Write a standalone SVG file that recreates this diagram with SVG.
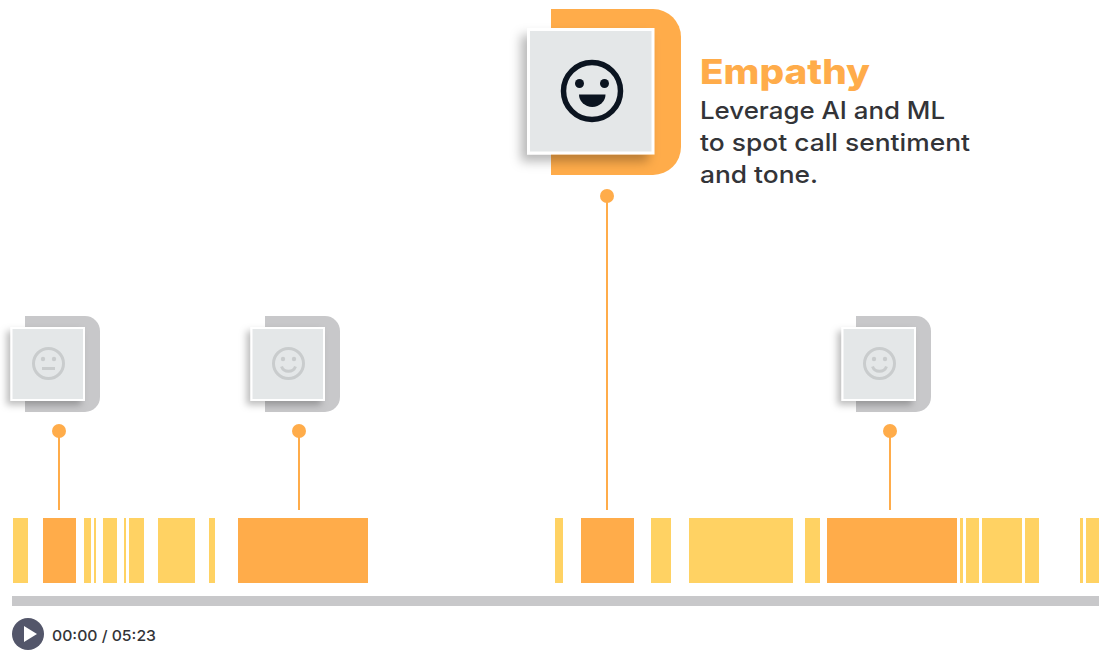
<svg xmlns="http://www.w3.org/2000/svg" width="1110" height="658" viewBox="0 0 1110 658">
<defs>
<style>
text{font-family:"Inter","Liberation Sans",Arial,sans-serif}
.a{fill:#ffd263}.o{fill:#ffac4a}.g{fill:#c8c8ca}
.sq{fill:#e4e7e8;stroke:#fff;stroke-width:2}
.sq.big{stroke-width:3}
.f{fill:none;stroke:#c9cccd;stroke-width:3}.fd{fill:#c9cccd}
.wire{stroke:#ffac4a;stroke-width:2;fill:none}
.body{font-size:24px;font-weight:500;fill:#333438}
</style>
<filter id="s" x="-30%" y="-30%" width="160%" height="160%"><feDropShadow dx="-4" dy="4" stdDeviation="3.500" flood-color="#000" flood-opacity=".26"/></filter>
<filter id="b" x="-30%" y="-30%" width="160%" height="160%"><feDropShadow dx="-6" dy="7" stdDeviation="5.500" flood-color="#000" flood-opacity=".28"/></filter>
</defs>
<rect width="1110" height="658" fill="#fff"/>
<g id="bars">
<rect class="a" x="13" y="518" width="15" height="65"/><rect class="o" x="43" y="518" width="33" height="65"/><rect class="a" x="84" y="518" width="7" height="65"/><rect class="a" x="94" y="518" width="2" height="65"/><rect class="a" x="103" y="518" width="14" height="65"/><rect class="a" x="124" y="518" width="2" height="65"/><rect class="a" x="129" y="518" width="15" height="65"/><rect class="a" x="158" y="518" width="37" height="65"/><rect class="a" x="209" y="518" width="6" height="65"/><rect class="o" x="238" y="518" width="130" height="65"/>
<rect class="a" x="555" y="518" width="8" height="65"/><rect class="o" x="581" y="518" width="53" height="65"/><rect class="a" x="651" y="518" width="20" height="65"/><rect class="a" x="689" y="518" width="104" height="65"/><rect class="a" x="805" y="518" width="15" height="65"/><rect class="o" x="827" y="518" width="130" height="65"/><rect class="a" x="960" y="518" width="3" height="65"/><rect class="a" x="966" y="518" width="13" height="65"/><rect class="a" x="982" y="518" width="40" height="65"/><rect class="a" x="1025" y="518" width="14" height="65"/><rect class="a" x="1080" y="518" width="3" height="65"/><rect class="a" x="1086" y="518" width="13" height="65"/>
</g>
<rect id="track" class="g" x="12" y="596" width="1087" height="10"/>
<g id="connectors">
<path class="wire" d="M59 431V510M299 431V510M607 196V510M890 431V510"/>
<circle class="o" cx="59" cy="431" r="7"/><circle class="o" cx="299" cy="431" r="7"/><circle class="o" cx="607" cy="196" r="7"/><circle class="o" cx="890" cy="431" r="7"/>
</g>
<g id="node-neutral">
<path class="g" d="M25 316H85A15 15 0 0 1 100 331V397A15 15 0 0 1 85 412H25Z"/>
<rect class="sq" x="11.500" y="328" width="72.500" height="72" filter="url(#s)"/>
<circle class="f" cx="48.500" cy="363.500" r="15"/><circle class="fd" cx="43" cy="359" r="2.200"/><circle class="fd" cx="54" cy="359" r="2.200"/><path class="f" d="M42 368.500H55"/>
</g>
<g id="node-smile-1">
<path class="g" d="M265 316H325A15 15 0 0 1 340 331V397A15 15 0 0 1 325 412H265Z"/>
<rect class="sq" x="251.500" y="328" width="72.500" height="72" filter="url(#s)"/>
<circle class="f" cx="288.500" cy="363.500" r="15"/><circle class="fd" cx="283" cy="359" r="2.200"/><circle class="fd" cx="294" cy="359" r="2.200"/><path class="f" d="M281.500 366.500A7.500 7.500 0 0 0 295.500 366.500"/>
</g>
<g id="node-smile-2">
<path class="g" d="M856 316H916A15 15 0 0 1 931 331V397A15 15 0 0 1 916 412H856Z"/>
<rect class="sq" x="842.500" y="328" width="72.500" height="72" filter="url(#s)"/>
<circle class="f" cx="879.500" cy="363.500" r="15"/><circle class="fd" cx="874" cy="359" r="2.200"/><circle class="fd" cx="885" cy="359" r="2.200"/><path class="f" d="M872.500 366.500A7.500 7.500 0 0 0 886.500 366.500"/>
</g>
<g id="node-empathy">
<path class="o" d="M551 9H653A28 28 0 0 1 681 37V147A28 28 0 0 1 653 175H551Z"/>
<rect class="sq big" x="528.500" y="29.500" width="124.500" height="123.500" filter="url(#b)"/>
<circle cx="592" cy="91" r="28.500" fill="none" stroke="#0b1420" stroke-width="5.500"/>
<circle cx="579.500" cy="83.500" r="4.500" fill="#0b1420"/><circle cx="604.500" cy="83.500" r="4.500" fill="#0b1420"/>
<path d="M579 94.500H605.500A13.250 12.500 0 0 1 579 94.500Z" fill="#0b1420"/>
<text x="700" y="84" font-size="34" font-weight="800" fill="#ffac4a" textLength="170" lengthAdjust="spacingAndGlyphs">Empathy</text>
<text class="body" x="700" y="119" textLength="245" lengthAdjust="spacingAndGlyphs">Leverage AI and ML</text>
<text class="body" x="700" y="151" textLength="270" lengthAdjust="spacingAndGlyphs">to spot call sentiment</text>
<text class="body" x="700" y="183" textLength="118" lengthAdjust="spacingAndGlyphs">and tone.</text>
</g>
<g id="player">
<circle cx="28" cy="634" r="16" fill="#53566a"/><path d="M24 626L37 634L24 642Z" fill="#fff"/>
<text x="52" y="641" font-size="15" font-weight="500" fill="#333438" textLength="104" lengthAdjust="spacingAndGlyphs">00:00 / 05:23</text>
</g>
</svg>
